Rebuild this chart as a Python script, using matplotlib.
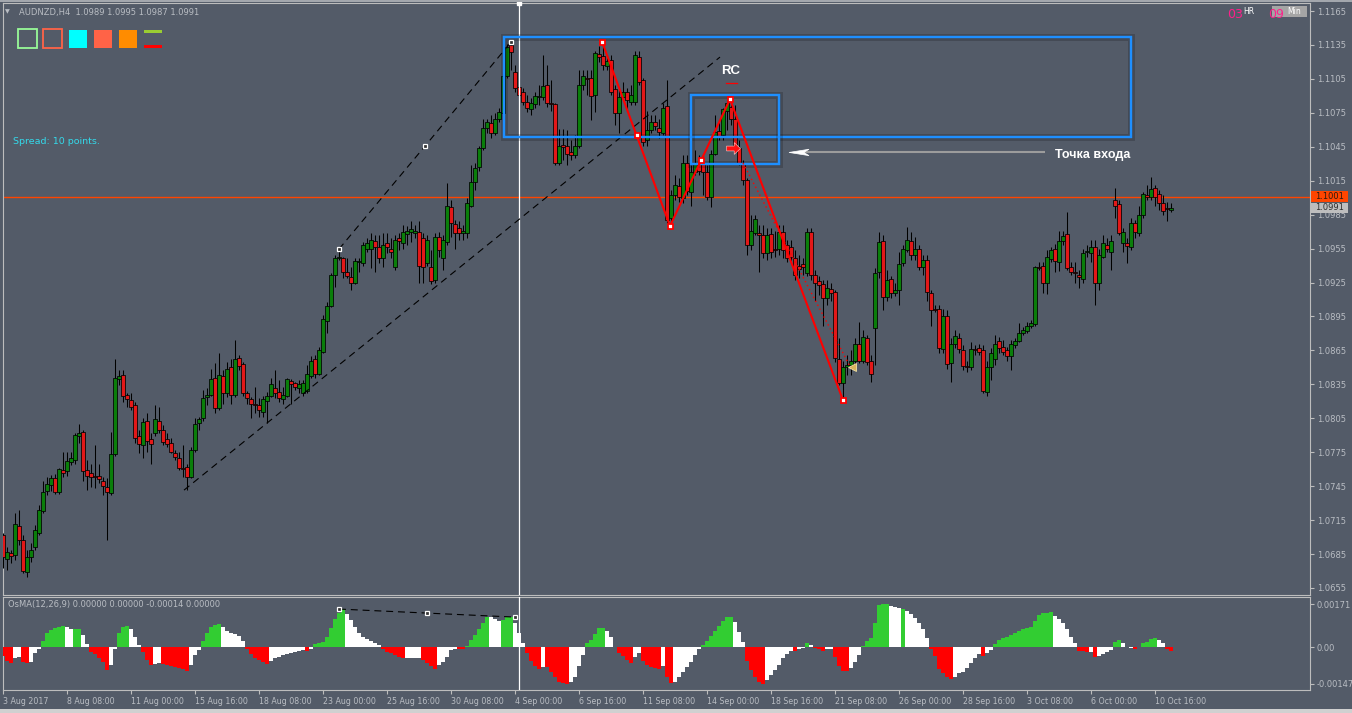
import numpy as np
import matplotlib
matplotlib.use('Agg')
import matplotlib.pyplot as plt
from matplotlib.patches import Rectangle, Polygon
from matplotlib.path import Path
import matplotlib.transforms as mtransforms
import matplotlib.patheffects as pe

plt.rcParams['font.family'] = ['DejaVu Sans']
plt.rcParams['lines.scale_dashes'] = False

# ---------------- data (AUDNZD, H4) ----------------
opens = [
    1.0702, 1.0681, 1.0686, 1.0684, 1.0710, 1.0697, 1.0669, 1.0682, 1.0691, 1.0704,
    1.0723, 1.0741, 1.0746, 1.0752, 1.0740, 1.0759, 1.0758, 1.0766, 1.0768, 1.0789,
    1.0793, 1.0759, 1.0757, 1.0754, 1.0754, 1.0750, 1.0744, 1.0739, 1.0773, 1.0840,
    1.0843, 1.0826, 1.0821, 1.0817, 1.0789, 1.0781, 1.0803, 1.0787, 1.0792, 1.0803,
    1.0795, 1.0787, 1.0783, 1.0774, 1.0770, 1.0761, 1.0762, 1.0753, 1.0777, 1.0801,
    1.0805, 1.0824, 1.0826, 1.0841, 1.0814, 1.0842, 1.0827, 1.0850, 1.0826, 1.0858,
    1.0853, 1.0827, 1.0822, 1.0818, 1.0817, 1.0811, 1.0820, 1.0825, 1.0832, 1.0828,
    1.0822, 1.0825, 1.0838, 1.0836, 1.0832, 1.0827, 1.0829, 1.0842, 1.0857, 1.0844,
    1.0864, 1.0891, 1.0904, 1.0932, 1.0947, 1.0947, 1.0934, 1.0930, 1.0925, 1.0943,
    1.0942, 1.0955, 1.0955, 1.0962, 1.0956, 1.0947, 1.0960, 1.0955, 1.0939, 1.0964,
    1.0960, 1.0968, 1.0970, 1.0969, 1.0970, 1.0964, 1.0942, 1.0939, 1.0927, 1.0965,
    1.0947, 1.0961, 1.0992, 1.0977, 1.0973, 1.0969, 1.0969, 1.0993, 1.1014, 1.1027,
    1.1044, 1.1062, 1.1066, 1.1057, 1.1070, 1.1075, 1.1108, 1.1135, 1.1111, 1.1098,
    1.1093, 1.1085, 1.1078, 1.1083, 1.1089, 1.1089, 1.1100, 1.1084, 1.1083, 1.1031,
    1.1047, 1.1046, 1.1040, 1.1038, 1.1046, 1.1100, 1.1106, 1.1106, 1.1091, 1.1127,
    1.1125, 1.1116, 1.1122, 1.1096, 1.1075, 1.1089, 1.1093, 1.1085, 1.1085, 1.1124,
    1.1104, 1.1051, 1.1060, 1.1067, 1.1062, 1.1057, 1.1081, 1.0982, 1.1002, 1.1010,
    1.1000, 1.1031, 1.1005, 1.1023, 1.1031, 1.1031, 1.1023, 1.1001, 1.1039, 1.1059,
    1.1055, 1.1077, 1.1080, 1.1070, 1.1044, 1.1031, 1.1016, 1.0958, 1.0969, 1.0969,
    1.0967, 1.0951, 1.0968, 1.0955, 1.0955, 1.0970, 1.0958, 1.0956, 1.0947, 1.0940,
    1.0941, 1.0933, 1.0970, 1.0932, 1.0926, 1.0924, 1.0911, 1.0919, 1.0917, 1.0857,
    1.0836, 1.0850, 1.0852, 1.0856, 1.0871, 1.0856, 1.0876, 1.0856, 1.0885, 1.0934,
    1.0962, 1.0912, 1.0928, 1.0916, 1.0918, 1.0942, 1.0954, 1.0962, 1.0949, 1.0955,
    1.0939, 1.0945, 1.0916, 1.0902, 1.0902, 1.0866, 1.0895, 1.0854, 1.0871, 1.0876,
    1.0865, 1.0851, 1.0850, 1.0866, 1.0867, 1.0865, 1.0828, 1.0850, 1.0857, 1.0873,
    1.0868, 1.0865, 1.0860, 1.0870, 1.0873, 1.0880, 1.0882, 1.0887, 1.0888, 1.0939,
    1.0940, 1.0925, 1.0946, 1.0955, 1.0943, 1.0962, 1.0968, 1.0939, 1.0934, 1.0932,
    1.0928, 1.0952, 1.0951, 1.0956, 1.0925, 1.0948, 1.0958, 1.0952, 1.0998, 1.0994,
    1.0960, 1.0960, 1.0956, 1.0978, 1.0969, 1.0985, 1.1002, 1.1001, 1.1009, 1.1003,
    1.0995, 1.0991, 1.0989]

highs = [
    1.0704, 1.0691, 1.0689, 1.0721, 1.0724, 1.0702, 1.0689, 1.0695, 1.0711, 1.0728,
    1.0750, 1.0753, 1.0755, 1.0756, 1.0761, 1.0775, 1.0775, 1.0775, 1.0792, 1.0800,
    1.0795, 1.0768, 1.0765, 1.0781, 1.0765, 1.0753, 1.0752, 1.0793, 1.0857, 1.0848,
    1.0848, 1.0827, 1.0827, 1.0819, 1.0795, 1.0805, 1.0810, 1.0792, 1.0817, 1.0815,
    1.0799, 1.0792, 1.0788, 1.0777, 1.0775, 1.0781, 1.0765, 1.0780, 1.0805, 1.0806,
    1.0830, 1.0832, 1.0849, 1.0854, 1.0863, 1.0848, 1.0855, 1.0857, 1.0874, 1.0861,
    1.0855, 1.0829, 1.0824, 1.0833, 1.0823, 1.0825, 1.0828, 1.0841, 1.0848, 1.0839,
    1.0833, 1.0841, 1.0840, 1.0837, 1.0839, 1.0839, 1.0852, 1.0860, 1.0861, 1.0868,
    1.0896, 1.0908, 1.0933, 1.0949, 1.0954, 1.0948, 1.0947, 1.0939, 1.0947, 1.0947,
    1.0961, 1.0964, 1.0969, 1.0967, 1.0967, 1.0969, 1.0969, 1.0964, 1.0967, 1.0969,
    1.0976, 1.0975, 1.0979, 1.0976, 1.0979, 1.0969, 1.0967, 1.0954, 1.0969, 1.0970,
    1.0967, 1.1013, 1.0998, 1.0980, 1.0979, 1.0976, 1.1000, 1.1029, 1.1031, 1.1046,
    1.1070, 1.1070, 1.1073, 1.1075, 1.1079, 1.1111, 1.1136, 1.1138, 1.1117, 1.1106,
    1.1097, 1.1091, 1.1088, 1.1093, 1.1100, 1.1126, 1.1117, 1.1104, 1.1084, 1.1061,
    1.1061, 1.1060, 1.1051, 1.1055, 1.1113, 1.1113, 1.1113, 1.1113, 1.1130, 1.1134,
    1.1138, 1.1126, 1.1126, 1.1100, 1.1095, 1.1102, 1.1097, 1.1100, 1.1130, 1.1130,
    1.1106, 1.1077, 1.1073, 1.1073, 1.1070, 1.1084, 1.1104, 1.1007, 1.1020, 1.1017,
    1.1038, 1.1038, 1.1029, 1.1042, 1.1038, 1.1038, 1.1029, 1.1042, 1.1073, 1.1069,
    1.1079, 1.1086, 1.1087, 1.1082, 1.1051, 1.1033, 1.1017, 1.0985, 1.0985, 1.0976,
    1.0976, 1.0973, 1.0973, 1.0971, 1.0976, 1.0976, 1.0963, 1.0963, 1.0954, 1.0949,
    1.0947, 1.0973, 1.0973, 1.0936, 1.0931, 1.0927, 1.0927, 1.0925, 1.0918, 1.0876,
    1.0856, 1.0861, 1.0865, 1.0876, 1.0890, 1.0883, 1.0879, 1.0861, 1.0938, 1.0970,
    1.0967, 1.0936, 1.0931, 1.0925, 1.0952, 1.0958, 1.0974, 1.0970, 1.0965, 1.0958,
    1.0949, 1.0949, 1.0918, 1.0905, 1.0905, 1.0902, 1.0901, 1.0876, 1.0883, 1.0880,
    1.0870, 1.0856, 1.0872, 1.0870, 1.0871, 1.0870, 1.0856, 1.0867, 1.0879, 1.0877,
    1.0874, 1.0868, 1.0874, 1.0876, 1.0889, 1.0886, 1.0890, 1.0892, 1.0940, 1.0943,
    1.0943, 1.0954, 1.0956, 1.0959, 1.0971, 1.0971, 1.0987, 1.0943, 1.0943, 1.0936,
    1.0955, 1.0958, 1.0963, 1.0963, 1.0955, 1.0967, 1.0964, 1.0967, 1.1009, 1.0998,
    1.0973, 1.0964, 1.0982, 1.0980, 1.0993, 1.1005, 1.1011, 1.1018, 1.1011, 1.1007,
    1.1002, 1.0996, 1.0995]

lows = [
    1.0673, 1.0671, 1.0677, 1.0680, 1.0693, 1.0668, 1.0665, 1.0678, 1.0689, 1.0702,
    1.0721, 1.0737, 1.0741, 1.0738, 1.0738, 1.0753, 1.0754, 1.0764, 1.0765, 1.0783,
    1.0750, 1.0742, 1.0744, 1.0743, 1.0748, 1.0737, 1.0697, 1.0737, 1.0772, 1.0834,
    1.0819, 1.0815, 1.0812, 1.0783, 1.0774, 1.0770, 1.0775, 1.0765, 1.0789, 1.0792,
    1.0781, 1.0780, 1.0774, 1.0768, 1.0759, 1.0753, 1.0742, 1.0752, 1.0775, 1.0795,
    1.0803, 1.0817, 1.0825, 1.0810, 1.0812, 1.0818, 1.0824, 1.0818, 1.0824, 1.0848,
    1.0825, 1.0818, 1.0805, 1.0810, 1.0806, 1.0806, 1.0801, 1.0824, 1.0823, 1.0819,
    1.0818, 1.0824, 1.0818, 1.0830, 1.0827, 1.0825, 1.0827, 1.0841, 1.0841, 1.0843,
    1.0863, 1.0880, 1.0903, 1.0921, 1.0945, 1.0929, 1.0929, 1.0918, 1.0924, 1.0934,
    1.0940, 1.0952, 1.0938, 1.0934, 1.0942, 1.0939, 1.0951, 1.0947, 1.0936, 1.0954,
    1.0955, 1.0958, 1.0961, 1.0964, 1.0925, 1.0925, 1.0940, 1.0924, 1.0925, 1.0948,
    1.0936, 1.0958, 1.0965, 1.0955, 1.0963, 1.0963, 1.0964, 1.0992, 1.1007, 1.1024,
    1.1042, 1.1057, 1.1053, 1.1055, 1.1067, 1.1073, 1.1106, 1.1113, 1.1093, 1.1088,
    1.1082, 1.1076, 1.1073, 1.1079, 1.1082, 1.1086, 1.1080, 1.1077, 1.1029, 1.1029,
    1.1033, 1.1029, 1.1033, 1.1035, 1.1044, 1.1095, 1.1091, 1.1069, 1.1076, 1.1120,
    1.1113, 1.1113, 1.1091, 1.1064, 1.1057, 1.1086, 1.1077, 1.1082, 1.1082, 1.1100,
    1.1046, 1.1046, 1.1057, 1.1060, 1.1053, 1.1055, 1.0978, 1.0975, 1.0998, 1.0996,
    1.0995, 1.1002, 1.0993, 1.1020, 1.1020, 1.1002, 1.0998, 1.0992, 1.1038, 1.1051,
    1.1051, 1.1060, 1.1064, 1.1042, 1.1029, 1.1011, 1.0949, 1.0954, 1.0967, 1.0934,
    1.0947, 1.0945, 1.0947, 1.0948, 1.0949, 1.0947, 1.0943, 1.0943, 1.0927, 1.0929,
    1.0932, 1.0931, 1.0927, 1.0909, 1.0914, 1.0887, 1.0905, 1.0909, 1.0855, 1.0834,
    1.0821, 1.0843, 1.0843, 1.0852, 1.0854, 1.0854, 1.0852, 1.0837, 1.0852, 1.0929,
    1.0901, 1.0909, 1.0911, 1.0913, 1.0905, 1.0940, 1.0952, 1.0945, 1.0945, 1.0936,
    1.0932, 1.0909, 1.0887, 1.0899, 1.0863, 1.0863, 1.0849, 1.0837, 1.0867, 1.0863,
    1.0848, 1.0846, 1.0848, 1.0861, 1.0861, 1.0827, 1.0825, 1.0839, 1.0852, 1.0863,
    1.0861, 1.0856, 1.0848, 1.0867, 1.0872, 1.0879, 1.0880, 1.0885, 1.0887, 1.0936,
    1.0916, 1.0915, 1.0943, 1.0934, 1.0935, 1.0958, 1.0936, 1.0932, 1.0925, 1.0920,
    1.0925, 1.0948, 1.0943, 1.0905, 1.0918, 1.0947, 1.0952, 1.0936, 1.0982, 1.0967,
    1.0952, 1.0942, 1.0954, 1.0964, 1.0966, 1.0982, 1.0998, 1.0998, 1.0993, 1.0989,
    1.0985, 1.0979, 1.0987]

closes = [
    1.0682, 1.0687, 1.0683, 1.0712, 1.0697, 1.0670, 1.0682, 1.0689, 1.0706, 1.0724,
    1.0740, 1.0747, 1.0752, 1.0740, 1.0760, 1.0757, 1.0767, 1.0770, 1.0790, 1.0792,
    1.0758, 1.0754, 1.0753, 1.0753, 1.0751, 1.0745, 1.0740, 1.0773, 1.0841, 1.0842,
    1.0825, 1.0822, 1.0815, 1.0788, 1.0782, 1.0802, 1.0785, 1.0782, 1.0804, 1.0795,
    1.0784, 1.0782, 1.0775, 1.0771, 1.0761, 1.0760, 1.0753, 1.0777, 1.0800, 1.0804,
    1.0823, 1.0826, 1.0840, 1.0814, 1.0843, 1.0827, 1.0849, 1.0826, 1.0857, 1.0851,
    1.0827, 1.0823, 1.0818, 1.0817, 1.0812, 1.0822, 1.0825, 1.0835, 1.0827, 1.0823,
    1.0826, 1.0840, 1.0835, 1.0833, 1.0835, 1.0836, 1.0844, 1.0856, 1.0844, 1.0865,
    1.0893, 1.0904, 1.0932, 1.0947, 1.0948, 1.0934, 1.0931, 1.0925, 1.0944, 1.0944,
    1.0958, 1.0960, 1.0963, 1.0956, 1.0947, 1.0958, 1.0956, 1.0952, 1.0963, 1.0962,
    1.0970, 1.0971, 1.0972, 1.0971, 1.0940, 1.0939, 1.0963, 1.0926, 1.0965, 1.0954,
    1.0963, 1.0993, 1.0978, 1.0969, 1.0969, 1.0971, 1.0995, 1.1014, 1.1026, 1.1044,
    1.1062, 1.1067, 1.1057, 1.1070, 1.1076, 1.1108, 1.1133, 1.1129, 1.1097, 1.1091,
    1.1085, 1.1079, 1.1084, 1.1090, 1.1090, 1.1099, 1.1084, 1.1083, 1.1031, 1.1046,
    1.1045, 1.1039, 1.1038, 1.1046, 1.1100, 1.1108, 1.1105, 1.1090, 1.1128, 1.1124,
    1.1117, 1.1121, 1.1093, 1.1075, 1.1089, 1.1093, 1.1086, 1.1091, 1.1126, 1.1102,
    1.1049, 1.1060, 1.1067, 1.1063, 1.1058, 1.1079, 1.0980, 1.1002, 1.1011, 1.1001,
    1.1031, 1.1006, 1.1023, 1.1031, 1.1024, 1.1023, 1.1001, 1.1039, 1.1058, 1.1054,
    1.1078, 1.1084, 1.1070, 1.1044, 1.1031, 1.1016, 1.0958, 1.0971, 1.0981, 1.0967,
    1.0951, 1.0967, 1.0952, 1.0954, 1.0970, 1.0954, 1.0947, 1.0948, 1.0932, 1.0937,
    1.0939, 1.0970, 1.0932, 1.0925, 1.0923, 1.0911, 1.0920, 1.0916, 1.0858, 1.0836,
    1.0850, 1.0852, 1.0856, 1.0871, 1.0856, 1.0877, 1.0855, 1.0844, 1.0933, 1.0961,
    1.0912, 1.0927, 1.0916, 1.0918, 1.0941, 1.0955, 1.0963, 1.0949, 1.0955, 1.0939,
    1.0945, 1.0917, 1.0901, 1.0901, 1.0867, 1.0895, 1.0853, 1.0871, 1.0878, 1.0866,
    1.0851, 1.0850, 1.0866, 1.0865, 1.0864, 1.0829, 1.0850, 1.0863, 1.0871, 1.0867,
    1.0864, 1.0860, 1.0871, 1.0873, 1.0880, 1.0883, 1.0887, 1.0889, 1.0939, 1.0938,
    1.0925, 1.0948, 1.0954, 1.0944, 1.0962, 1.0966, 1.0938, 1.0934, 1.0933, 1.0930,
    1.0951, 1.0953, 1.0956, 1.0925, 1.0949, 1.0960, 1.0955, 1.0962, 1.0993, 1.0969,
    1.0970, 1.0957, 1.0978, 1.0970, 1.0985, 1.1003, 1.1001, 1.1008, 1.1001, 1.0995,
    1.0988, 1.0990, 1.0991]

# OsMA(12,26,9) histogram
osma = [
    -0.00036, -0.00054, -0.00062, -0.00045, -0.00038, -0.00058, -0.00065, -0.00058, -0.00025, -0.00009,
    0.00024, 0.00054, 0.00068, 0.00077, 0.00081, 0.00084, 0.00078, 0.00072, 0.00073, 0.00073,
    0.00048, 0.00011, -0.00019, -0.00028, -0.00045, -0.00058, -0.00091, -0.00072, -0.00007, 0.00057,
    0.00078, 0.00084, 0.00070, 0.00041, 0.00008, -0.00019, -0.00052, -0.00072, -0.00068, -0.00062,
    -0.00068, -0.00072, -0.00076, -0.00081, -0.00085, -0.00089, -0.00095, -0.00072, -0.00032, -0.00012,
    0.00025, 0.00057, 0.00078, 0.00088, 0.00091, 0.00078, 0.00065, 0.00057, 0.00053, 0.00044,
    0.00024, -0.00009, -0.00028, -0.00042, -0.00052, -0.00058, -0.00068, -0.00054, -0.00045, -0.00038,
    -0.00032, -0.00028, -0.00024, -0.00020, -0.00017, -0.00013, -0.00016, -0.00007, 0.00011, 0.00015,
    0.00021, 0.00041, 0.00074, 0.00110, 0.00137, 0.00152, 0.00131, 0.00107, 0.00081, 0.00057,
    0.00041, 0.00031, 0.00024, 0.00017, 0.00008, -0.00009, -0.00019, -0.00025, -0.00032, -0.00038,
    -0.00045, -0.00042, -0.00042, -0.00042, -0.00042, -0.00052, -0.00062, -0.00076, -0.00089, -0.00072,
    -0.00058, -0.00038, -0.00012, -0.00007, -0.00008, -0.00008, 0.00004, 0.00028, 0.00048, 0.00070,
    0.00094, 0.00118, 0.00121, 0.00110, 0.00105, 0.00107, 0.00118, 0.00121, 0.00094, 0.00054,
    0.00017, -0.00023, -0.00054, -0.00076, -0.00089, -0.00078, -0.00081, -0.00098, -0.00121, -0.00138,
    -0.00145, -0.00147, -0.00140, -0.00121, -0.00076, -0.00032, 0.00017, 0.00028, 0.00052, 0.00074,
    0.00075, 0.00065, 0.00041, 0.00001, -0.00023, -0.00036, -0.00052, -0.00062, -0.00038, -0.00025,
    -0.00054, -0.00072, -0.00078, -0.00082, -0.00086, -0.00076, -0.00118, -0.00142, -0.00138, -0.00121,
    -0.00098, -0.00078, -0.00058, -0.00032, -0.00009, 0.00007, 0.00025, 0.00044, 0.00065, 0.00084,
    0.00103, 0.00118, 0.00119, 0.00099, 0.00061, 0.00019, -0.00054, -0.00091, -0.00121, -0.00138,
    -0.00146, -0.00131, -0.00111, -0.00091, -0.00072, -0.00045, -0.00028, -0.00017, -0.00015, -0.00009,
    -0.00005, 0.00015, 0.00008, -0.00005, -0.00009, -0.00015, -0.00009, -0.00009, -0.00038, -0.00076,
    -0.00094, -0.00095, -0.00085, -0.00058, -0.00032, 0.00004, 0.00025, 0.00034, 0.00094, 0.00167,
    0.00171, 0.00170, 0.00165, 0.00160, 0.00155, 0.00152, 0.00145, 0.00131, 0.00114, 0.00094,
    0.00070, 0.00034, -0.00009, -0.00036, -0.00089, -0.00105, -0.00121, -0.00129, -0.00118, -0.00105,
    -0.00098, -0.00085, -0.00065, -0.00045, -0.00028, -0.00034, -0.00025, -0.00012, 0.00012, 0.00028,
    0.00037, 0.00041, 0.00048, 0.00054, 0.00065, 0.00070, 0.00074, 0.00081, 0.00105, 0.00127,
    0.00134, 0.00137, 0.00141, 0.00123, 0.00110, 0.00094, 0.00070, 0.00041, 0.00017, -0.00015,
    -0.00016, -0.00021, -0.00019, -0.00038, -0.00035, -0.00028, -0.00019, -0.00012, 0.00021, 0.00028,
    0.00017, -0.00001, -0.00003, -0.00007, 0.00001, 0.00015, 0.00021, 0.00033, 0.00037, 0.00028,
    0.00015, -0.00009, -0.00014]

# g = rising above zero, w = retreating, r = falling below zero
osma_colors = list(
    "rrr" "ww" "rr" "www" "gggggg" "ww" "gg" "ww" "rrrrr" "ww" "ggg" "www" "rrr" "ww"
    "rrrrrrr" "www" "ggggg" "wwwwww" "rrrrrr" "wwwwwwwww" "r" "w" "gggggggg" "wwwwwwwww"
    "rrrrrr" "wwww" "rrrr" "wwwww" "rr" "gggggg" "www" "ggg" "www" "rrrr" "w" "rrrrrr"
    "wwww" "ggggg" "www" "rrrr" "ww" "rrrrr" "w" "rr" "wwwwwww" "gggggggg" "www" "rrrrr"
    "wwwwwww" "r" "ww" "g" "w" "rrr" "ww" "rrrr" "www" "ggggggg" "www" "g" "wwwwww"
    "rrrrrr" "wwwwwww" "r" "ww" "ggggggggggggggg" "wwwwww" "rrr" "w" "r" "wwww" "gg"
    "www" "r" "ggggg" "ww" "rr")

price_tick_labels = ["1.0655", "1.0685", "1.0715", "1.0745", "1.0775", "1.0805",
                     "1.0835", "1.0865", "1.0895", "1.0925", "1.0955", "1.0985",
                     "1.1015", "1.1045", "1.1075", "1.1105", "1.1135", "1.1165"]
time_labels = ["3 Aug 2017", "8 Aug 08:00", "11 Aug 00:00", "15 Aug 16:00",
               "18 Aug 08:00", "23 Aug 00:00", "25 Aug 16:00", "30 Aug 08:00",
               "4 Sep 00:00", "6 Sep 16:00", "11 Sep 08:00", "14 Sep 00:00",
               "18 Sep 16:00", "21 Sep 08:00", "26 Sep 00:00", "28 Sep 16:00",
               "3 Oct 08:00", "6 Oct 00:00", "10 Oct 16:00"]
time_label_bars = [0, 16, 32, 48, 64, 80, 96, 112, 128, 144, 160, 176,
                   192, 208, 224, 240, 256, 272, 288]
osma_tick_values = [0.00171, 0.0, -0.00147]
osma_tick_labels = ["0.00171", "0.00", "-0.00147"]

# chart objects (bar index, price)
level_price = 1.1001
bid_price = 1.0991
crosshair_bar = 129
zones = [(125.25, 282.0, 1.10536, 1.11420), (172.0, 194.0, 1.10297, 1.10907)]
zigzag_bars = [149.75, 166.75, 181.75, 210.0]
zigzag_prices = [1.1138, 1.0975, 1.1087, 1.0821]
zigzag_mid_bars = [158.5, 174.5]
zigzag_mid_prices = [1.1055, 1.1033]
dotted_bars = [185.0, 212.25]
dotted_prices = [1.10306, 1.08476]
trend_low_bars = [45.25, 179.25]
trend_low_prices = [1.07415, 1.11243]
trend_up_bars = [84.0, 105.5, 127.0]
trend_up_prices = [1.09546, 1.10456, 1.11376]
osma_trend_bars = [84.0, 106.0, 128.0]
osma_trend_values = [0.00151, 0.00135, 0.00119]
entry_bar, entry_price = 182.5, 1.1044
target_bar, target_price = 212.25, 1.0850
rc_bar, rc_price = 182.0, 1.1112
note_bar, note_price = 263.0, 1.1038
arrow_from_bar, arrow_to_bar, arrow_price = 260.5, 197.0, 1.1040

# ---------------- figure ----------------
W, H = 1352, 713
BG = '#535B68'
FRAME = '#BDBDBD'
TXT = '#B9BDC3'

fig = plt.figure(figsize=(W / 100, H / 100), dpi=100, facecolor=BG)


def fbox(x0, y0, x1, y1):
    return [x0 / W, 1 - y1 / H, (x1 - x0) / W, (y1 - y0) / H]


ax = fig.add_axes(fbox(3, 3, 1310, 595))
ax2 = fig.add_axes(fbox(3, 597, 1310, 690))
for a in (ax, ax2):
    a.set_facecolor(BG)
    for s in a.spines.values():
        s.set_color(FRAME)
        s.set_linewidth(0.8)
    a.set_xlim(0, 326.75)

ax.set_ylim(1.06488, 1.11721)
ax2.set_ylim(-0.00171, 0.00199)

o = np.array(opens)
h = np.array(highs)
l = np.array(lows)
c = np.array(closes)
x = np.arange(len(c))

# candles
ax.vlines(x, l, h, color='black', lw=0.75, zorder=3)
body_col = np.where(c >= o, '#0A7E0A', '#E31818')
ax.bar(x, c - o, bottom=o, width=0.78, color=body_col, edgecolor='black',
       linewidth=0.55, zorder=4)

# horizontal level line and crosshair
ax.axhline(level_price, color='#FF4500', lw=1.0, zorder=2)
ax.axvline(crosshair_bar, color='white', lw=0.9, zorder=5)
ax2.axvline(crosshair_bar, color='white', lw=0.9, zorder=5)
ax.plot([crosshair_bar], [1.0],
        transform=mtransforms.blended_transform_factory(ax.transData, ax.transAxes),
        marker='s', ms=3.5, mfc='white', mec='white', clip_on=False, zorder=9)

# blue zones
for (b0, b1, p0, p1) in zones:
    r = Rectangle((b0, p0), b1 - b0, p1 - p0, fill=False, ec='#1E8FFF', lw=1.6,
                  zorder=6)
    r.set_path_effects([pe.withStroke(linewidth=5, foreground='black', alpha=0.18),
                        pe.Normal()])
    ax.add_patch(r)

# trend lines (dashed)
dash = (0, (5, 3.5))
ax.plot(trend_low_bars, trend_low_prices, color='black', lw=0.8, ls=dash, zorder=5)
ax.plot(trend_up_bars, trend_up_prices, color='black', lw=0.8, ls=dash, zorder=5)
ax.plot(trend_up_bars, trend_up_prices, ls='none', marker='s', ms=3.4,
        mfc='#333333', mec='white', mew=0.9, zorder=7)

# zigzag pattern
ax.plot(zigzag_bars, zigzag_prices, color='#FF0000', lw=1.5, zorder=6)
ax.plot(dotted_bars, dotted_prices, color='#FF0000', lw=1.0, ls=(0, (1, 2.2)), zorder=6)
ax.plot(zigzag_bars + zigzag_mid_bars, zigzag_prices + zigzag_mid_prices, ls='none',
        marker='s', ms=3.6, mfc='white', mec='#FF0000', mew=1.3, zorder=7)

# entry arrow marker
arrow_path = Path([(-1, -0.35), (0.1, -0.35), (0.1, -0.85), (1, 0), (0.1, 0.85),
                   (0.1, 0.35), (-1, 0.35), (-1, -0.35)],
                  [Path.MOVETO] + [Path.LINETO] * 6 + [Path.CLOSEPOLY])
ax.plot([entry_bar], [entry_price], marker=arrow_path, ms=10, mfc='#FF1010', mec='#FFD0D0',
        mew=0.4, ls='none', zorder=8)
ax.plot([target_bar], [target_price], marker='<', ms=6, mfc='#D9B45E', mec='#F3E3A6',
        mew=0.6, ls='none', zorder=8)

# RC label
ax.text(rc_bar, rc_price, 'RC', color='white', fontsize=9.5, fontweight='bold',
        family='Liberation Sans', ha='center', va='center', zorder=8)
ax.plot([rc_bar - 1.3, rc_bar + 1.5], [rc_price - 0.00105, rc_price - 0.00105],
        color='#FF0000', lw=0.9, zorder=8)

# annotation "Точка входа" with arrow
ax.plot([arrow_from_bar, arrow_to_bar + 2.5], [arrow_price, arrow_price],
        color='#9C9C9C', lw=1.5, zorder=7, solid_capstyle='butt')
ph = 0.00028
ax.add_patch(Polygon([(arrow_to_bar - 0.5, arrow_price), (arrow_to_bar + 4.5, arrow_price + ph),
                      (arrow_to_bar + 3.2, arrow_price), (arrow_to_bar + 4.5, arrow_price - ph)],
                     closed=True, fc='white', ec='white', lw=0.5, zorder=8))
ax.text(note_bar, note_price, 'Точка входа', color='white', fontsize=9,
        fontweight='bold', family='Liberation Sans', ha='left', va='center', zorder=8)

# right price axis
ax.yaxis.tick_right()
ax.set_yticks([float(s) for s in price_tick_labels])
ax.set_yticklabels(price_tick_labels)
ax.set_xticks([])
ax.tick_params(axis='y', length=3, width=0.8, pad=2, color=FRAME, labelcolor=TXT,
               labelsize=6)

tr = mtransforms.blended_transform_factory(ax.transAxes, ax.transData)
box_h = 0.00095
for price, fc, tc in [(level_price, '#FF4500', '#2A1A10'), (bid_price, '#BEBEBE', '#2E2E2E')]:
    ax.add_patch(Rectangle((1.0008, price - box_h / 2), 37 / 1307, box_h, transform=tr,
                           fc=fc, ec='none', clip_on=False, zorder=10))
    ax.text(1.0008 + 18.5 / 1307, price, f'{price:.4f}', transform=tr, color=tc,
            fontsize=6, ha='center', va='center', clip_on=False, zorder=11)

# ---------------- OsMA panel ----------------
cmap = {'g': '#32CD32', 'r': '#FF0000', 'w': '#FFFFFF'}
ax2.bar(x, osma, width=1.0, color=[cmap[k] for k in osma_colors], linewidth=0,
        antialiased=False, zorder=3)
ax2.plot(osma_trend_bars, osma_trend_values, color='black', lw=0.8, ls=dash, zorder=5)
ax2.plot(osma_trend_bars, osma_trend_values, ls='none', marker='s', ms=3.4,
         mfc='#333333', mec='white', mew=0.9, zorder=6)

ax2.yaxis.tick_right()
ax2.set_yticks(osma_tick_values)
ax2.set_yticklabels(osma_tick_labels)
ax2.set_xticks(time_label_bars)
ax2.set_xticklabels(time_labels)
for t in ax2.get_xticklabels():
    t.set_ha('left')
ax2.tick_params(axis='y', length=3, width=0.8, pad=2, color=FRAME, labelcolor=TXT,
                labelsize=6)
ax2.tick_params(axis='x', length=3, width=0.8, pad=2, color=FRAME, labelcolor=TXT,
                labelsize=5.7)

# ---------------- overlay texts ----------------
fig.text(5 / W, 1 - 12 / H, '▼', color=TXT, fontsize=4.5, va='center')
fig.text(19 / W, 1 - 12 / H, 'AUDNZD,H4  1.0989 1.0995 1.0987 1.0991', color=TXT,
         fontsize=6, va='center')
fig.text(8 / W, 1 - 605 / H, 'OsMA(12,26,9) 0.00000 0.00000 -0.00014 0.00000',
         color=TXT, fontsize=6, va='center')
fig.text(13 / W, 1 - 142 / H, 'Spread: 10 points.', color='#34D9EA', fontsize=6.8,
         va='center')

# indicator colour swatches (top-left)
sw = [((18, 29, 37, 48), False, '#98FB98'), ((43, 29, 62, 48), False, '#FF6347'),
      ((69, 30, 87, 48), True, '#00FFFF'), ((94, 30, 112, 48), True, '#FF6347'),
      ((119, 30, 137, 48), True, '#FF8C00'), ((144, 30, 162, 33), True, '#9ACD32'),
      ((144, 45, 162, 48), True, '#FF0000')]
for (x0, y0, x1, y1), filled, col in sw:
    b = fbox(x0, y0, x1, y1)
    fig.add_artist(Rectangle((b[0], b[1]), b[2], b[3], transform=fig.transFigure,
                             fill=filled, fc=col, ec=col, lw=1.3 if not filled else 0))

# timer (top-right)
b = fbox(1272, 6, 1307, 17)
fig.add_artist(Rectangle((b[0], b[1]), b[2], b[3], transform=fig.transFigure,
                         fc='#A5A5A5', ec='none', zorder=1))
fig.text(1227 / W, 1 - 14 / H, '03', color='#FF1F8A', fontsize=9, va='center', zorder=5)
fig.text(1243 / W, 1 - 11 / H, 'HR', color='white', fontsize=5.5, va='center', zorder=5)
fig.text(1268 / W, 1 - 14 / H, '09', color='#FF1F8A', fontsize=9, va='center', zorder=5)
fig.text(1287 / W, 1 - 11 / H, 'Min', color='white', fontsize=5.5, va='center', zorder=5)

# window edges
fig.add_artist(Rectangle((0, 1 - 2 / H), 1, 2 / H, transform=fig.transFigure,
                         fc='#A3A7AD', ec='none'))
fig.add_artist(Rectangle((0, 0), 1, 4 / H, transform=fig.transFigure,
                         fc='#D0D0D0', ec='none'))

fig.savefig('out.png', dpi=100, facecolor=BG)
